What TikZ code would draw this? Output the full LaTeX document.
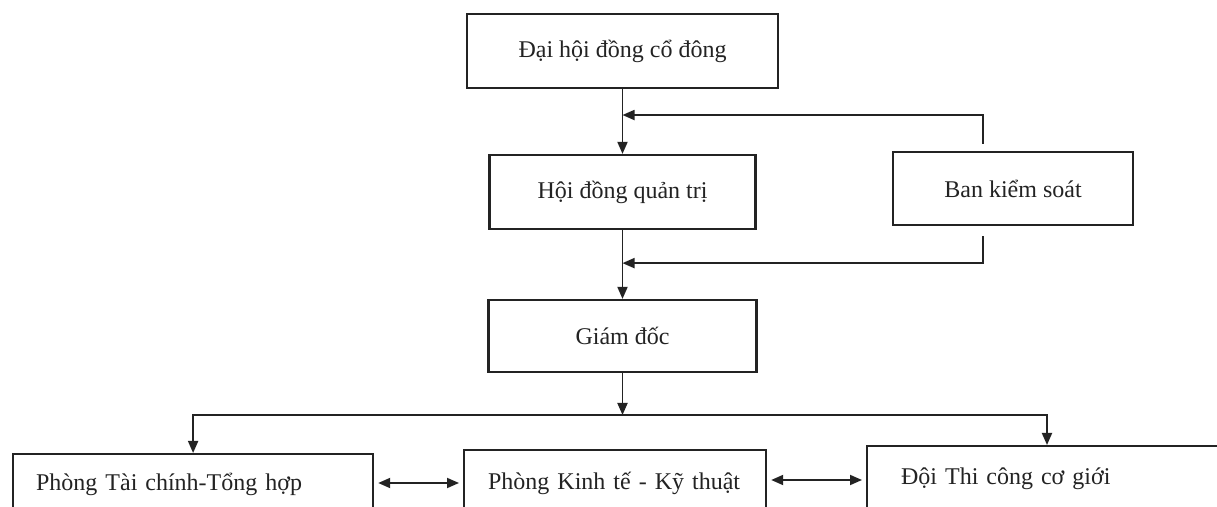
\documentclass[tikz,border=0pt]{standalone}
\usepackage{fontspec}
\setmainfont{Liberation Serif}
\usetikzlibrary{arrows.meta,calc}
\definecolor{ink}{RGB}{35,35,35}
\tikzset{
  box/.style={draw=ink, line width=1.1pt, text=ink, font=\fontsize{12}{14}\selectfont, inner sep=0pt},
  lbox/.style={box, align=left, anchor=north west},
  arr/.style={draw=ink, line width=0.9pt, -{Triangle[length=6pt,width=5pt]}},
  darr/.style={draw=ink, line width=0.9pt, {Triangle[length=6pt,width=5pt]}-{Triangle[length=6pt,width=5pt]}, shorten <=2pt, shorten >=2pt},
  conn/.style={draw=ink, line width=0.9pt}
}
\begin{document}
\begin{tikzpicture}[x=0.5pt,y=-0.5pt]
\useasboundingbox (0,0) rectangle (1217,507);
\clip (0,0) rectangle (1217,507);
\fill[white] (0,0) rectangle (1217,507);

\node[box, minimum width=155.5pt, minimum height=37pt] (b1) at (622.5,51) {Đại hội đồng cổ đông};
\node[box, minimum width=133pt, minimum height=37pt] (b2) at (622.5,192) {Hội đồng quản trị};
\node[box, minimum width=120pt, minimum height=36.5pt] (bks) at (1013,188.5) {Ban kiểm soát};
\node[box, minimum width=134pt, minimum height=36pt] (gd) at (622.5,336) {Giám đốc};

\node[lbox, minimum height=30pt, inner xsep=11.5pt, text width=157pt] (tc) at (12,453) {Phòng Tài chính-Tổng hợp};
\node[lbox, minimum height=33pt, inner xsep=12pt, text width=127pt] (kt) at (463,449) {Phòng Kinh tế - Kỹ thuật};
\node[lbox, minimum height=33pt, inner xsep=17pt, text width=166pt] (dt) at (866,445) {Đội Thi công cơ giới};

% main vertical chain
\draw[arr] (b1.south) -- (b2.north);
\draw[arr] (b2.south) -- (gd.north);

% Ban kiem soat feedback lines
\coordinate (k1) at ($(bks.north)+(-30,-7)$);
\coordinate (k2) at ($(bks.south)+(-30,10)$);
\draw[arr] (k1) |- ($(b1.south)!0.4!(b2.north)$);
\draw[arr] (k2) |- ($(b2.south)!0.48!(gd.north)$);

% distribution from Giam doc
\coordinate (j) at (622.5,415);
\coordinate (dtop) at ($(dt.north west)+(181,0)$);
\draw[arr] (gd.south) -- (j);
\draw[arr] (j) -| (tc.north);
\draw[arr] (j) -| (dtop);

% double arrows between departments
\draw[darr] (tc.east |- 0,483) -- (kt.west |- 0,483);
\draw[darr] (kt.east |- 0,480) -- (dt.west |- 0,480);
\end{tikzpicture}
\end{document}
